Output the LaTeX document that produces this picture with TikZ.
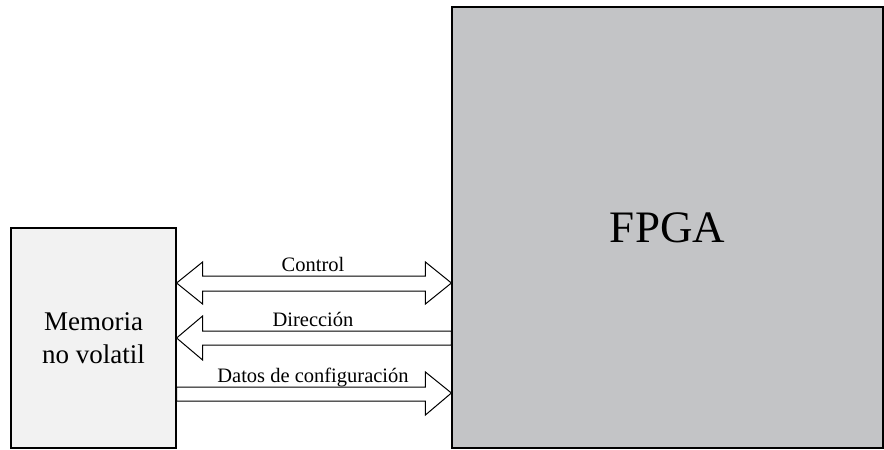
\documentclass[tikz,border=0pt]{standalone}
\usepackage{fontspec}
\setmainfont{Liberation Serif}
\usetikzlibrary{calc}
\definecolor{memfill}{HTML}{F2F2F2}
\definecolor{fpgafill}{HTML}{C3C4C6}
\begin{document}
\begin{tikzpicture}[x=1pt,y=-1pt,
  block/.style={draw=black,line width=1.2pt,inner sep=0pt,anchor=center},
  bus/.style={draw=black,line width=1pt,fill=white,line join=miter},
  buslabel/.style={font=\fontsize{20.5}{24}\selectfont,inner sep=0pt}]
\useasboundingbox (0,0) rectangle (884,450);

% blocks
\node[block,fill=memfill,minimum width=165pt,minimum height=220pt,
      align=center,font=\fontsize{27}{33}\selectfont] (mem) at (93.5,338)
      {Memoria\\no volatil};
\node[block,fill=fpgafill,minimum width=431pt,minimum height=441pt,
      font=\fontsize{45}{54}\selectfont] (fpga) at (667.5,227.5) {FPGA};

\coordinate (L) at (mem.east);
\coordinate (R) at (fpga.west);

% Control: bidirectional bus
\draw[bus] (L|-0,283) -- ($(L|-0,262)+(26,0)$) -- ($(L|-0,276)+(26,0)$)
  -- ($(R|-0,276)+(-26,0)$) -- ($(R|-0,262)+(-26,0)$) -- (R|-0,283)
  -- ($(R|-0,304)+(-26,0)$) -- ($(R|-0,291)+(-26,0)$)
  -- ($(L|-0,291)+(26,0)$) -- ($(L|-0,304)+(26,0)$) -- cycle;

% Direccion: FPGA to memory
\draw[bus] (L|-0,338) -- ($(L|-0,316)+(26,0)$) -- ($(L|-0,331)+(26,0)$)
  -- (R|-0,331) -- (R|-0,345)
  -- ($(L|-0,345)+(26,0)$) -- ($(L|-0,360)+(26,0)$) -- cycle;

% Datos de configuracion: memory to FPGA
\draw[bus] (L|-0,387) -- ($(R|-0,387)+(-26,0)$) -- ($(R|-0,372)+(-26,0)$)
  -- (R|-0,393) -- ($(R|-0,415)+(-26,0)$) -- ($(R|-0,401)+(-26,0)$)
  -- (L|-0,401) -- cycle;

% labels
\node[buslabel,anchor=base] (lctl) at (313,271) {Control};
\node[buslabel,anchor=base] (ldir) at (313,326) {Dirección};
\node[buslabel,anchor=base] (ldat) at (313,382) {Datos de configuración};
\end{tikzpicture}
\end{document}
